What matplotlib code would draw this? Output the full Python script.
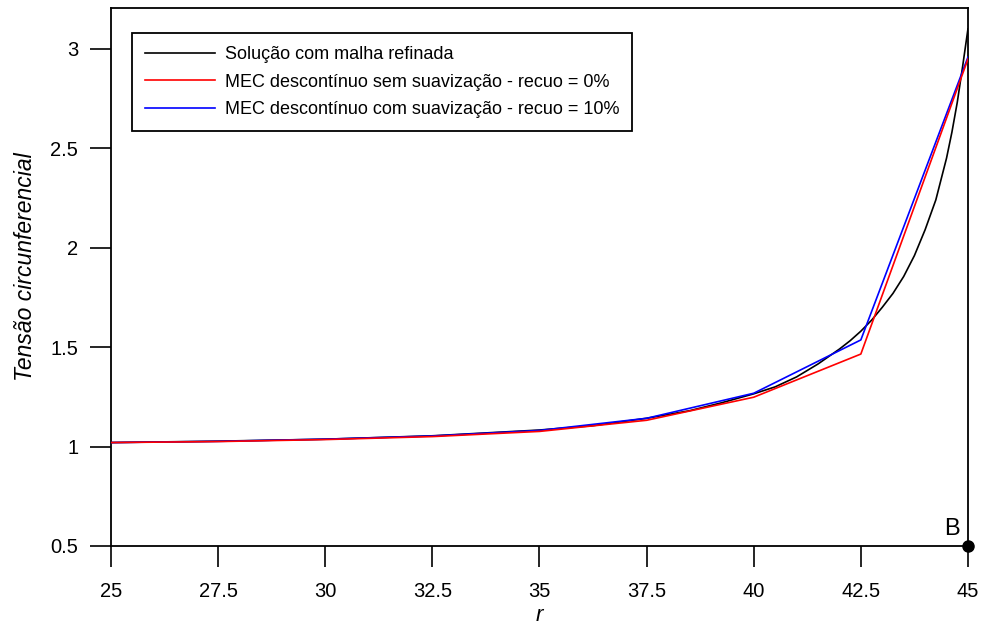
import matplotlib
matplotlib.use("Agg")
import matplotlib.pyplot as plt

plt.rcParams['font.family'] = ['Liberation Sans', 'DejaVu Sans']

# Refined-mesh solution
r_ref = [25, 27.5, 30, 32.5, 35, 36.25, 37.5, 38.5, 39.25, 40, 40.5, 41, 41.5, 42, 42.25,
         42.5, 42.75, 43, 43.25, 43.5, 43.75, 44, 44.25, 44.5, 44.625, 44.75, 44.875, 45]
s_ref = [1.020, 1.027, 1.037, 1.054, 1.083, 1.105, 1.142, 1.180, 1.220, 1.265, 1.300, 1.350,
         1.415, 1.490, 1.532, 1.580, 1.635, 1.700, 1.770, 1.855, 1.960, 2.090, 2.240, 2.450,
         2.580, 2.730, 2.910, 3.100]

# MEC discontinuous without smoothing (offset 0%)
r_red = [25, 27.5, 30, 32.5, 35, 37.5, 40, 42.5, 45]
s_red = [1.020, 1.025, 1.035, 1.050, 1.076, 1.132, 1.248, 1.465, 2.948]

# MEC discontinuous with smoothing (offset 10%)
r_blue = [25, 27.5, 30, 32.5, 35, 37.5, 40, 42.5, 45]
s_blue = [1.020, 1.026, 1.037, 1.053, 1.081, 1.142, 1.268, 1.536, 2.958]

labels = ["Solução com malha refinada",
          "MEC descontínuo sem suavização - recuo = 0%",
          "MEC descontínuo com suavização - recuo = 10%"]

xticks = [25, 27.5, 30, 32.5, 35, 37.5, 40, 42.5, 45]
xticklabels = ["25", "27.5", "30", "32.5", "35", "37.5", "40", "42.5", "45"]
yticks = [0.5, 1, 1.5, 2, 2.5, 3]
yticklabels = ["0.5", "1", "1.5", "2", "2.5", "3"]

fig = plt.figure(figsize=(9.85, 6.28), dpi=100)
ax = fig.add_axes([0.1127, 0.1306, 0.870, 0.8567])

ax.plot(r_ref, s_ref, color='black', lw=1.2, label=labels[0])
ax.plot(r_blue, s_blue, color='blue', lw=1.2, label=labels[2], zorder=3)
ax.plot(r_red, s_red, color='red', lw=1.2, label=labels[1], zorder=4)

ax.set_xlim(25, 45)
ax.set_ylim(0.5, 3.205)
ax.set_xticks(xticks)
ax.set_xticklabels(xticklabels)
ax.set_yticks(yticks)
ax.set_yticklabels(yticklabels)
ax.tick_params(direction='out', length=15, width=1.2, labelsize=14.5)
ax.tick_params(axis='x', pad=11)
ax.tick_params(axis='y', pad=8.5)
for s in ax.spines.values():
    s.set_linewidth(1.3)

ax.set_xlabel("r", style='italic', fontsize=16, labelpad=3)
ax.set_ylabel("Tensão circunferencial", style='italic', fontsize=16.5)
ax.yaxis.set_label_coords(-0.086, 0.52)

# point B
ax.plot([45], [0.5], 'o', color='black', ms=8, clip_on=False, zorder=5)
ax.annotate("B", xy=(45, 0.5), xytext=(-6, 4), textcoords='offset points',
            ha='right', va='bottom', fontsize=17)

h, l = ax.get_legend_handles_labels()
order = [0, 2, 1]
leg = ax.legend([h[i] for i in order], [l[i] for i in order],
                loc='upper left', bbox_to_anchor=(0.024, 0.953),
                fontsize=13, frameon=True, fancybox=False, framealpha=1,
                edgecolor='black', handlelength=3.9, handletextpad=0.55,
                labelspacing=0.58, borderpad=0.72, borderaxespad=0)
leg.get_frame().set_linewidth(1.3)

fig.savefig("out.png", dpi=100)
